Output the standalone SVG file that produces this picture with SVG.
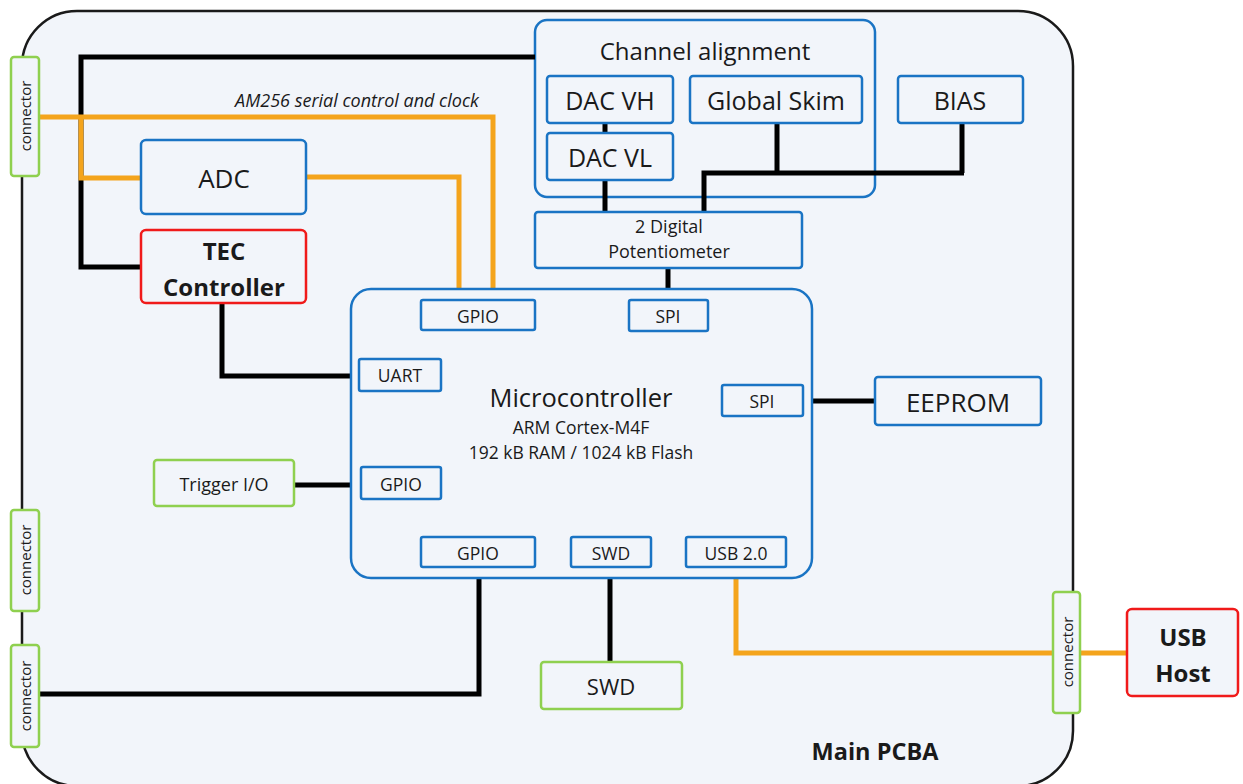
<svg xmlns="http://www.w3.org/2000/svg" width="1243" height="784" viewBox="0 0 1243 784">
<style>
text{font-family:"Open Sans","Noto Sans","Liberation Sans",sans-serif;fill:#1a1a1a;text-anchor:middle;dominant-baseline:central}
.blue{fill:#f2f5fa;stroke:#1a74c4;stroke-width:2.5}
.green{fill:#f2f5fa;stroke:#8fd04f;stroke-width:2.5}
.red{fill:#f2f5fa;stroke:#f01a1a;stroke-width:2.5}
.blk{fill:none;stroke:#000;stroke-width:5;stroke-linejoin:miter}
.org{fill:none;stroke:#f4a41c;stroke-width:5}
.b{font-weight:bold}
.port{font-size:17.5px}
.conn{font-size:15px}
</style>
<rect width="1243" height="784" fill="#fff"/>
<g id="board">
<rect x="22" y="11" width="1051" height="775" rx="55" fill="#f2f5fa" stroke="#1a1a1a" stroke-width="2.5"/>
<text x="875" y="751" font-size="23.5" class="b">Main PCBA</text>
</g>
<g id="channel-alignment">
<rect class="blue" x="535" y="20" width="340" height="177" rx="12"/>
<text x="705" y="50" font-size="24">Channel alignment</text>
</g>
<g id="connectors">
<path class="blk" d="M535 57 H81 V267 H141"/>
<path class="org" d="M39 117 H493 V289"/>
<path class="org" d="M81 117 V178 H141"/>
<path class="org" d="M306 177 H459 V289"/>
<path class="blk" d="M222 303 V376 H351"/>
<path class="blk" d="M294 485 H351"/>
<path class="blk" d="M479 578 V694 H39"/>
<path class="blk" d="M610 578 V662"/>
<path class="org" d="M736 578 V653 H1053"/>
<path class="org" d="M1080 653 H1127"/>
<path class="blk" d="M605 123 V133"/>
<path class="blk" d="M605 180 V212"/>
<path class="blk" d="M777 123 V173 M962 123 V173 M704 212 V173 H964"/>
<path class="blk" d="M668 268 V290"/>
<path class="blk" d="M812 401 H875"/>
<text x="357" y="100" font-size="18" font-style="italic">AM256 serial control and clock</text>
</g>
<g id="dac-vh"><rect class="blue" x="547" y="76" width="126" height="47" rx="3"/><text x="610" y="100" font-size="25">DAC VH</text></g>
<g id="dac-vl"><rect class="blue" x="547" y="133" width="126" height="47" rx="3"/><text x="610" y="157" font-size="25">DAC VL</text></g>
<g id="global-skim"><rect class="blue" x="690" y="76" width="172" height="47" rx="3"/><text x="776" y="100" font-size="25">Global Skim</text></g>
<g id="bias"><rect class="blue" x="898" y="76" width="125" height="47" rx="3"/><text x="960" y="100" font-size="25">BIAS</text></g>
<g id="potentiometer"><rect class="blue" x="535" y="212" width="267" height="56" rx="3"/>
<text x="669" y="226" font-size="18">2 Digital</text><text x="669" y="251" font-size="18">Potentiometer</text></g>
<g id="adc"><rect class="blue" x="141" y="140" width="165" height="74" rx="5"/><text x="224" y="178" font-size="26">ADC</text></g>
<g id="tec"><rect class="red" x="141" y="230" width="165" height="73" rx="5"/><text x="224" y="250" font-size="24" class="b">TEC</text><text x="224" y="286" font-size="24" class="b">Controller</text></g>
<g id="microcontroller">
<rect class="blue" x="351" y="289" width="461" height="289" rx="20"/>
<text x="581" y="397" font-size="25.5">Microcontroller</text>
<text x="581" y="427" font-size="17.5">ARM Cortex-M4F</text>
<text x="581" y="452" font-size="17.5">192 kB RAM / 1024 kB Flash</text>
<rect class="blue" x="421" y="300" width="114" height="30" rx="2"/><text class="port" x="478" y="316">GPIO</text>
<rect class="blue" x="629" y="300" width="79" height="31" rx="2"/><text class="port" x="668" y="316">SPI</text>
<rect class="blue" x="359" y="359" width="82" height="32" rx="2"/><text class="port" x="400" y="375">UART</text>
<rect class="blue" x="722" y="385" width="81" height="31" rx="2"/><text class="port" x="762" y="401">SPI</text>
<rect class="blue" x="361" y="467" width="80" height="32" rx="2"/><text class="port" x="401" y="484">GPIO</text>
<rect class="blue" x="421" y="537" width="114" height="30" rx="2"/><text class="port" x="478" y="553">GPIO</text>
<rect class="blue" x="571" y="537" width="80" height="30" rx="2"/><text class="port" x="611" y="553">SWD</text>
<rect class="blue" x="686" y="537" width="100" height="30" rx="2"/><text class="port" x="736" y="553">USB 2.0</text>
</g>
<g id="eeprom"><rect class="blue" x="875" y="377" width="166" height="48" rx="3"/><text x="958" y="402" font-size="26">EEPROM</text></g>
<g id="trigger"><rect class="green" x="154" y="460" width="140" height="46" rx="3"/><text x="224" y="484" font-size="18">Trigger I/O</text></g>
<g id="swd"><rect class="green" x="541" y="662" width="141" height="47" rx="3"/><text x="611" y="686" font-size="22">SWD</text></g>
<g id="usb-host"><rect class="red" x="1127" y="609" width="111" height="87" rx="5"/><text x="1183" y="636" font-size="24" class="b">USB</text><text x="1183" y="672" font-size="24" class="b">Host</text></g>
<g id="conn-top"><rect class="green" x="11" y="57" width="28" height="119" rx="3"/><text class="conn" transform="translate(25 116) rotate(-90)">connector</text></g>
<g id="conn-mid"><rect class="green" x="11" y="510" width="28" height="101" rx="3"/><text class="conn" transform="translate(25 560) rotate(-90)">connector</text></g>
<g id="conn-bot"><rect class="green" x="11" y="645" width="28" height="102" rx="3"/><text class="conn" transform="translate(25 696) rotate(-90)">connector</text></g>
<g id="conn-right"><rect class="green" x="1053" y="592" width="27" height="121" rx="3"/><text class="conn" transform="translate(1067 652) rotate(-90)">connector</text></g>
</svg>
